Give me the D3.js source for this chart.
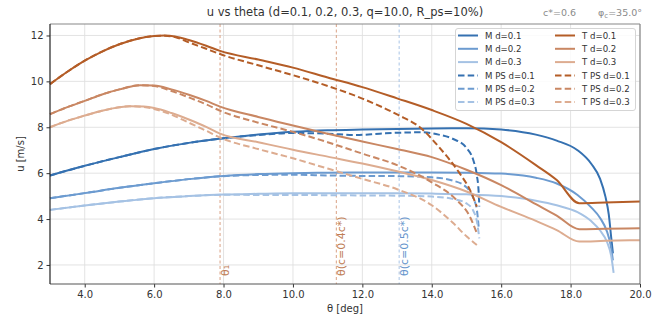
<!DOCTYPE html>
<html><head><meta charset="utf-8">
<script src="https://cdn.jsdelivr.net/npm/d3@7/dist/d3.min.js"></script>
<style>
body{margin:0;background:#fff;}
svg{font-family:"DejaVu Sans",sans-serif;}
</style></head>
<body><svg id="c" width="665" height="320"></svg>
<script>
// ---- data ----
const xTicks = [4, 6, 8, 10, 12, 14, 16, 18, 20];
const yTicks = [2, 4, 6, 8, 10, 12];
const dValues = [0.1, 0.2, 0.3];

const thetaT1 = [3,3.5,4,4.5,5,5.5,6,6.3,6.6,7,7.5,7.9,9,10,11,12,13,14,15,16,17,17.6,18.25,19,20];
const uT1     = [9.88,10.42,10.9,11.3,11.62,11.85,11.98,12.0,11.96,11.8,11.55,11.33,10.95,10.6,10.17,9.75,9.26,8.75,8.15,7.35,6.35,5.7,4.69,4.72,4.77];
const thetaTPS1 = [3,3.5,4,4.5,5,5.5,6,6.3,6.6,7,7.5,7.9,9,10,11,12,13,13.7,14.2,14.8,15.1,15.3];
const uTPS1     = [9.88,10.42,10.9,11.3,11.62,11.85,11.98,11.99,11.93,11.7,11.42,11.19,10.7,10.27,9.8,9.25,8.56,7.95,7.15,6.0,5.27,4.54];

const thetaT2 = [3,3.5,4,4.5,5,5.6,6,6.5,7,7.5,7.9,9,10,11,12,13,14,15,16,17,17.6,18.25,19,20];
const uT2     = [8.57,8.88,9.15,9.43,9.65,9.83,9.82,9.65,9.42,9.15,8.9,8.45,8.08,7.72,7.38,7.05,6.7,6.15,5.48,4.65,4.15,3.56,3.58,3.6];
const thetaTPS2 = [3,3.5,4,4.5,5,5.6,6,6.5,7,7.5,7.9,9,10,11,12,13,14,14.7,15.1,15.3];
const uTPS2     = [8.57,8.88,9.15,9.43,9.65,9.83,9.8,9.58,9.3,9.0,8.72,8.2,7.8,7.35,6.85,6.35,5.6,4.85,4.1,3.38];

const thetaT3 = [3,3.5,4,4.5,5,5.3,5.7,6,6.5,7,7.5,7.9,9,10,11,12,13,14,15,16,17,17.6,18.25,19,20];
const uT3     = [8.0,8.28,8.51,8.72,8.87,8.92,8.9,8.84,8.62,8.34,8.02,7.72,7.35,7.02,6.72,6.42,6.08,5.7,5.2,4.53,3.92,3.52,3.02,3.05,3.08];
const thetaTPS3 = [3,3.5,4,4.5,5,5.3,5.7,6,6.5,7,7.5,7.9,9,10,11,12,13,14,14.6,15.0,15.3];
const uTPS3     = [8.0,8.28,8.51,8.72,8.87,8.92,8.88,8.8,8.55,8.2,7.85,7.55,7.05,6.65,6.2,5.75,5.3,4.6,3.85,3.25,2.87];

const thetaM1 = [3,4,5,6,7,8,9,10,11,12,13,14,15,16,17,17.6,18.2,18.6,18.85,19.0,19.1,19.17,19.22];
const uM1     = [5.9,6.32,6.7,7.05,7.32,7.52,7.68,7.8,7.87,7.9,7.92,7.95,7.96,7.9,7.68,7.42,7.0,6.4,5.75,5.0,4.2,3.2,2.5];
const thetaMPS1 = [3,4,5,6,7,8,9,10,11,11.8,12.5,13,13.7,14.2,14.6,15.0,15.2,15.3,15.35,15.37];
const uMPS1     = [5.9,6.32,6.7,7.05,7.32,7.52,7.66,7.75,7.72,7.66,7.72,7.76,7.78,7.68,7.5,7.1,6.55,5.9,5.2,4.55];

const thetaM2 = [3,4,5,6,7,8,9,10,11,12,13,14,15,16,17,17.6,18.2,18.6,18.85,19.05,19.15,19.22];
const uM2     = [4.91,5.13,5.36,5.56,5.74,5.88,5.96,6.0,6.02,6.03,6.03,6.03,6.02,5.98,5.8,5.55,5.05,4.5,4.05,3.45,2.9,2.2];
const thetaMPS2 = [3,4,5,6,7,8,9,10,11,12,13,14,14.6,15.0,15.2,15.3,15.35];
const uMPS2     = [4.91,5.13,5.36,5.56,5.74,5.87,5.92,5.93,5.9,5.88,5.87,5.82,5.68,5.38,4.9,4.4,3.67];

const thetaM3 = [3,4,5,6,7,8,9,10,11,12,13,14,15,16,17,17.6,18.2,18.6,18.85,19.05,19.17,19.24];
const uM3     = [4.4,4.59,4.76,4.91,5.0,5.07,5.1,5.12,5.12,5.12,5.12,5.11,5.08,5.0,4.8,4.6,4.3,3.9,3.5,3.0,2.4,1.65];
const thetaMPS3 = [3,4,5,6,7,8,9,10,11,12,13,14,14.6,15.0,15.2,15.3,15.37];
const uMPS3     = [4.4,4.59,4.76,4.91,5.0,5.06,5.05,5.05,5.04,5.03,5.02,4.98,4.88,4.68,4.35,3.9,3.16];

const markers = [
  {theta: 7.9,  label: "θ₁",          kind: "T"},
  {theta: 11.25, label: "θ(c=0.4c*)", kind: "T"},
  {theta: 13.06, label: "θ(c=0.5c*)", kind: "M"}
];

const colM = ["#3571b1", "#6c9bd0", "#a5c2e4"];
const colT = ["#b45d27", "#c98763", "#ddac90"];

const series = [
  {name:"M d=0.1", x:thetaM1, y:uM1, c:colM[0], dash:false},
  {name:"M d=0.2", x:thetaM2, y:uM2, c:colM[1], dash:false},
  {name:"M d=0.3", x:thetaM3, y:uM3, c:colM[2], dash:false},
  {name:"M PS d=0.1", x:thetaMPS1, y:uMPS1, c:colM[0], dash:true},
  {name:"M PS d=0.2", x:thetaMPS2, y:uMPS2, c:colM[1], dash:true},
  {name:"M PS d=0.3", x:thetaMPS3, y:uMPS3, c:colM[2], dash:true},
  {name:"T d=0.1", x:thetaT1, y:uT1, c:colT[0], dash:false},
  {name:"T d=0.2", x:thetaT2, y:uT2, c:colT[1], dash:false},
  {name:"T d=0.3", x:thetaT3, y:uT3, c:colT[2], dash:false},
  {name:"T PS d=0.1", x:thetaTPS1, y:uTPS1, c:colT[0], dash:true},
  {name:"T PS d=0.2", x:thetaTPS2, y:uTPS2, c:colT[1], dash:true},
  {name:"T PS d=0.3", x:thetaTPS3, y:uTPS3, c:colT[2], dash:true}
];

// ---- layout ----
const L = 50, R = 640, T = 24, B = 284;
const svg = d3.select("#c");
const x = d3.scaleLinear().domain([3, 20]).range([L, R]);
const y = d3.scaleLinear().domain([1.17, 12.5]).range([B, T]);

// grid
svg.append("g").selectAll("line").data(xTicks).join("line")
  .attr("x1", d=>x(d)).attr("x2", d=>x(d)).attr("y1", T).attr("y2", B)
  .attr("stroke", "#e0e0e0").attr("stroke-width", 0.9);
svg.append("g").selectAll("line").data(yTicks).join("line")
  .attr("y1", d=>y(d)).attr("y2", d=>y(d)).attr("x1", L).attr("x2", R)
  .attr("stroke", "#e0e0e0").attr("stroke-width", 0.9);

// marker lines
const plot = svg.append("g");
markers.forEach(m => {
  const lc = m.kind === "T" ? "#d9a184" : "#a9c5e6";
  const tc = m.kind === "T" ? "#c07d55" : "#6494cc";
  plot.append("line").attr("x1", x(m.theta)).attr("x2", x(m.theta))
    .attr("y1", T).attr("y2", B).attr("stroke", lc).attr("stroke-width", 1)
    .attr("stroke-dasharray", "3,2.5");
  plot.append("text").attr("transform", `translate(${x(m.theta)+9},${B-8}) rotate(-90)`)
    .attr("fill", tc).attr("font-size", 11).text(m.label);
});

// curves
const line = d3.line().x((d)=>x(d[0])).y(d=>y(d[1])).curve(d3.curveMonotoneX);
series.forEach(s => {
  plot.append("path").datum(s.x.map((t,i)=>[t, s.y[i]]))
    .attr("d", line).attr("fill", "none").attr("stroke", s.c)
    .attr("stroke-width", 2).attr("stroke-dasharray", s.dash ? "6.5,3.2" : null);
});

// axes
const xa = svg.append("g").attr("transform", `translate(0,${B})`)
  .call(d3.axisBottom(x).tickValues(xTicks).tickFormat(d3.format(".1f")).tickSize(3.5).tickPadding(3));
const ya = svg.append("g").attr("transform", `translate(${L},0)`)
  .call(d3.axisLeft(y).tickValues(yTicks).tickFormat(d3.format("d")).tickSize(3.5).tickPadding(3));
[xa, ya].forEach(a => {
  a.select(".domain").remove();
  a.selectAll("text").attr("font-size", 10).attr("fill", "#333").attr("font-family", "DejaVu Sans");
  a.selectAll("line").attr("stroke", "#333");
});
// frame
svg.append("line").attr("x1", L).attr("x2", R).attr("y1", T).attr("y2", T).attr("stroke", "#888").attr("stroke-width", 1.2);
svg.append("line").attr("x1", R).attr("x2", R).attr("y1", T).attr("y2", B).attr("stroke", "#888").attr("stroke-width", 1.2);
svg.append("line").attr("x1", L).attr("x2", R).attr("y1", B).attr("y2", B).attr("stroke", "#555").attr("stroke-width", 1.2);
svg.append("line").attr("x1", L).attr("x2", L).attr("y1", T).attr("y2", B).attr("stroke", "#222").attr("stroke-width", 1.2);

// labels
svg.append("text").attr("x", (L+R)/2).attr("y", 312).attr("text-anchor", "middle")
  .attr("font-size", 10).attr("fill", "#333").text("θ [deg]");
svg.append("text").attr("transform", `translate(24,${(T+B)/2}) rotate(-90)`).attr("text-anchor", "middle")
  .attr("font-size", 10).attr("fill", "#333").text("u [m/s]");
svg.append("text").attr("x", (L+R)/2).attr("y", 16).attr("text-anchor", "middle")
  .attr("font-size", 11.5).attr("fill", "#333").text("u vs theta (d=0.1, 0.2, 0.3, q=10.0, R_ps=10%)");
svg.append("text").attr("x", 543).attr("y", 16).attr("font-size", 9.5).attr("fill", "#8a8a8a").text("c*=0.6");
const info = svg.append("text").attr("x", 642).attr("y", 16).attr("text-anchor", "end")
  .attr("font-size", 9.5).attr("fill", "#8a8a8a");
info.append("tspan").text("φ");
info.append("tspan").attr("font-size", 7).attr("dy", 2).text("c");
info.append("tspan").attr("dy", -2).text("=35.0°");

// legend
const lg = svg.append("g");
lg.append("rect").attr("x", 455.5).attr("y", 28.5).attr("width", 180).attr("height", 82)
  .attr("rx", 2.5).attr("fill", "#fff").attr("fill-opacity", 0.85).attr("stroke", "#d5d5d5");
series.forEach((s, i) => {
  const col = Math.floor(i / 6), row = i % 6;
  const lx = 458 + col * 97, ly = 35.5 + row * 13.3;
  lg.append("line").attr("x1", lx).attr("x2", lx+20).attr("y1", ly).attr("y2", ly)
    .attr("stroke", s.c).attr("stroke-width", 2).attr("stroke-dasharray", s.dash ? "6.5,3.2" : null);
  lg.append("text").attr("x", lx+27).attr("y", ly+3.3).attr("font-size", 8.6).attr("fill", "#333").text(s.name);
});
</script></body></html>
